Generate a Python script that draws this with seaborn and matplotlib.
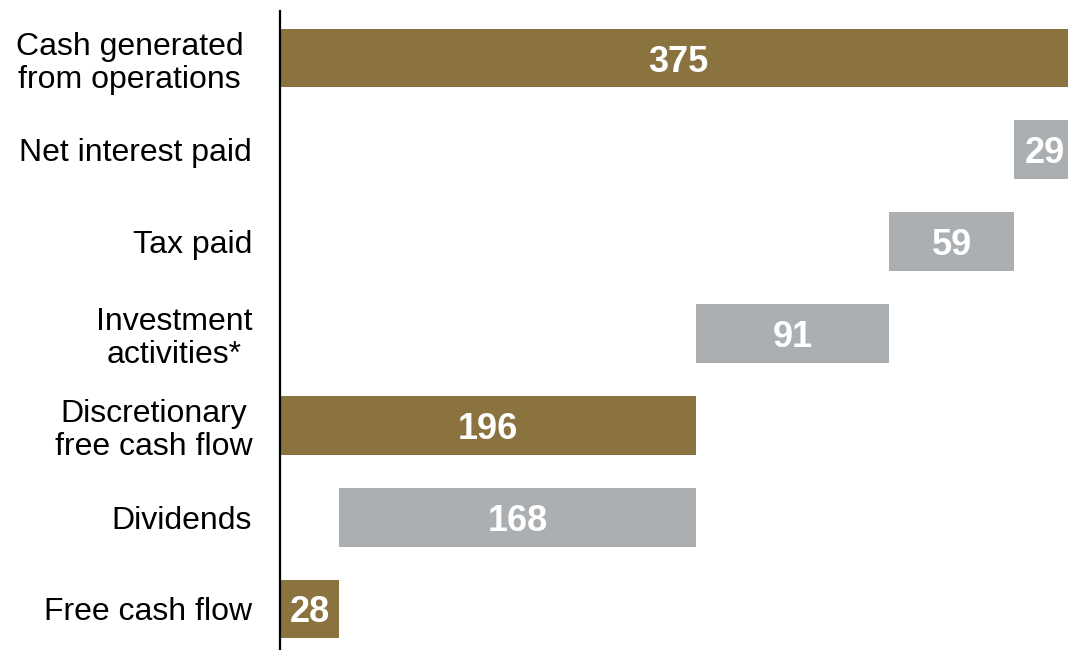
import matplotlib
matplotlib.use("Agg")
import matplotlib.pyplot as plt
import seaborn as sns
import pandas as pd

categories = ["Cash generated \nfrom operations ", "Net interest paid", "Tax paid",
              "Investment\nactivities*", "Discretionary\nfree cash flow", "Dividends",
              "Free cash flow"]
values = [375, 29, 59, 91, 196, 168, 28]
kinds = ["total", "change", "change", "change", "total", "change", "total"]

# waterfall starting points derived from the values
starts = []
running = 0
for v, k in zip(values, kinds):
    if k == "total":
        starts.append(0)
        running = v
    else:
        running -= v
        starts.append(running)

df = pd.DataFrame({"category": categories, "value": values, "kind": kinds, "start": starts})

sns.set_style("white")
plt.rcParams["font.family"] = ["Liberation Sans", "DejaVu Sans"]
plt.rcParams["text.color"] = "black"
plt.rcParams["ytick.color"] = "black"

fig = plt.figure(figsize=(10.68, 6.5), dpi=100)
ax = fig.add_axes([280 / 1068, 0.0, 1 - 280 / 1068, 1 - 11 / 650])

palette = {"total": "#8B7340", "change": "#ABAFB2"}
sns.barplot(data=df, y="category", x="value", hue="kind", palette=palette,
            dodge=False, width=0.64, legend=False, ax=ax, orient="h",
            saturation=1, linewidth=0)

# shift the bars to their waterfall starting points
for patch in ax.patches:
    yc = patch.get_y() + patch.get_height() / 2
    idx = int(round(yc))
    patch.set_x(df["start"].iloc[idx])
    patch.set_width(df["value"].iloc[idx])

for i, row in df.iterrows():
    ax.text(row["start"] + row["value"] / 2, i, str(row["value"]), color="white",
            fontsize=26, fontweight="bold", ha="center", va="center_baseline")

ax.set_xlim(0, (1068 - 280) / 2.122)
ax.set_ylim(6 + 41 / 91.83, -47 / 91.83)
ax.set_xticks([])
ax.set_xlabel("")
ax.set_ylabel("")
for s in ["top", "right", "bottom"]:
    ax.spines[s].set_visible(False)
ax.spines["left"].set_color("black")
ax.spines["left"].set_linewidth(1.6)
ax.tick_params(axis="y", length=0, pad=20, labelsize=23, labelcolor="black")
for lab in ax.get_yticklabels():
    lab.set_multialignment("center")
    lab.set_linespacing(1.15)

fig.savefig("out.png", dpi=100)
